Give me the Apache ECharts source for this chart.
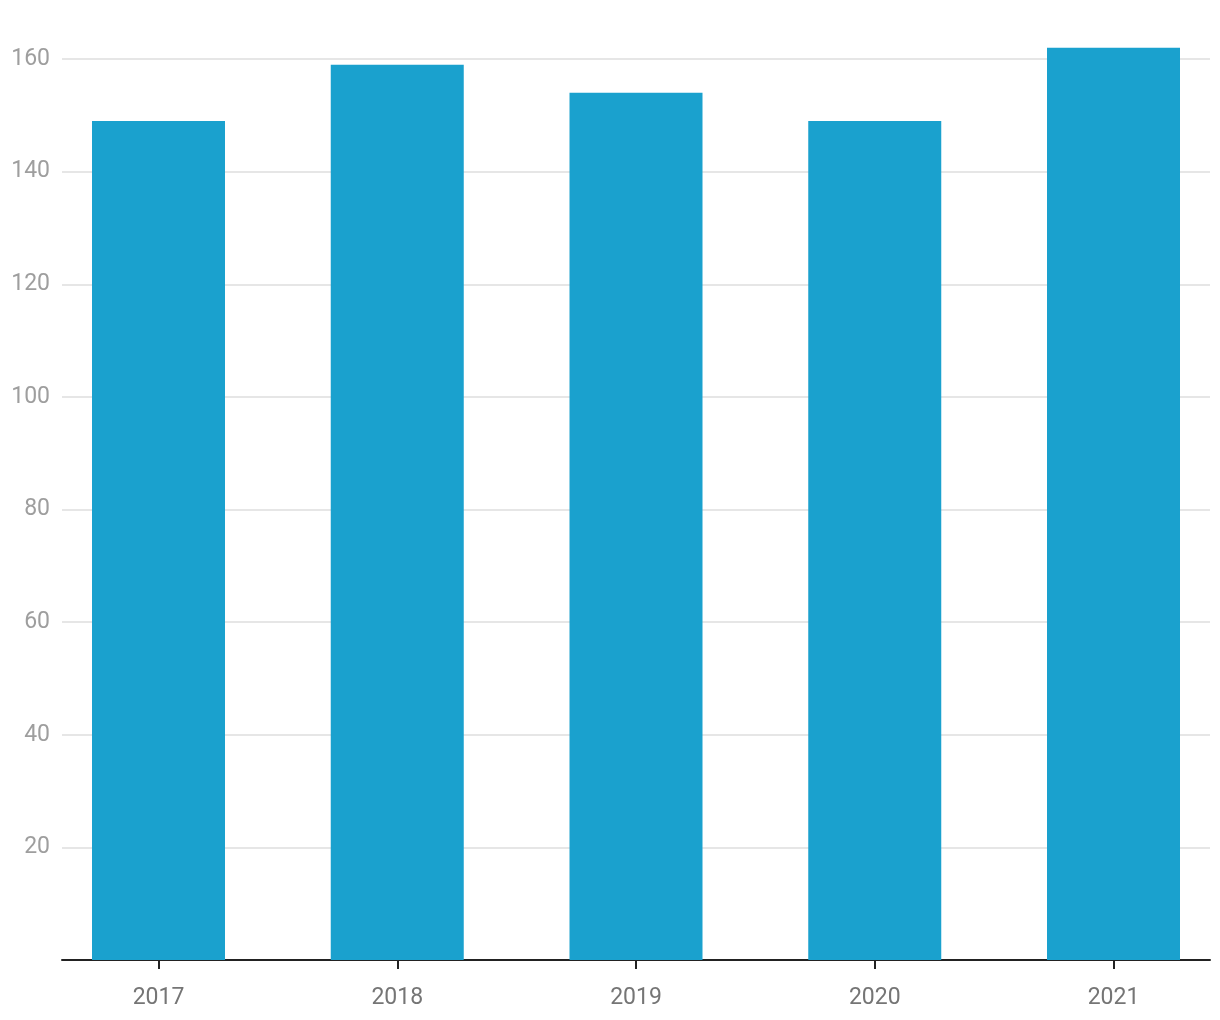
<!DOCTYPE html>
<html>
<head>
<meta charset="utf-8">
<script src="https://cdn.jsdelivr.net/npm/echarts@6/dist/echarts.min.js"></script>
<style>
html,body{margin:0;padding:0;background:#fff;}
#chart{width:1220px;height:1020px;}
</style>
</head>
<body>
<div id="chart"></div>
<script>
const categories = ['2017', '2018', '2019', '2020', '2021'];
const values = [149, 159, 154, 149, 162];
const yMin = 0, yMax = 160, yStep = 20;

const chart = echarts.init(document.getElementById('chart'), null, {renderer: 'canvas'});
const font = 'Roboto';
chart.setOption({
  animation: false,
  grid: [
    {left: 158.5, right: 106.5, top: 59, bottom: 60, containLabel: false},
    {left: 62, right: 10, top: 59, bottom: 60, containLabel: false}
  ],
  xAxis: [
    {
      type: 'category', gridIndex: 0, data: categories, boundaryGap: false,
      axisLine: {show: false},
      axisTick: {show: true, length: 9, lineStyle: {color: '#222', width: 2}},
      axisLabel: {color: '#757575', fontSize: 23, fontFamily: font, margin: 27},
      splitLine: {show: false}
    },
    {
      type: 'value', gridIndex: 1, min: 0, max: 1,
      axisLine: {show: true, lineStyle: {color: '#222', width: 2}},
      axisTick: {show: false}, axisLabel: {show: false}, splitLine: {show: false}
    }
  ],
  yAxis: [
    {type: 'value', gridIndex: 0, min: yMin, max: yMax, interval: yStep, show: false},
    {
      type: 'value', gridIndex: 1, min: yMin, max: yMax, interval: yStep,
      axisLine: {show: false}, axisTick: {show: false},
      axisLabel: {color: '#9e9e9e', fontSize: 23, fontFamily: font, margin: 12, showMinLabel: false},
      splitLine: {show: true, lineStyle: {color: '#e6e6e6', width: 2}}
    }
  ],
  series: [{
    type: 'bar', xAxisIndex: 0, yAxisIndex: 0, data: values,
    barWidth: 133, clip: false,
    itemStyle: {color: '#1aa1ce'}
  }]
});
</script>
</body>
</html>
